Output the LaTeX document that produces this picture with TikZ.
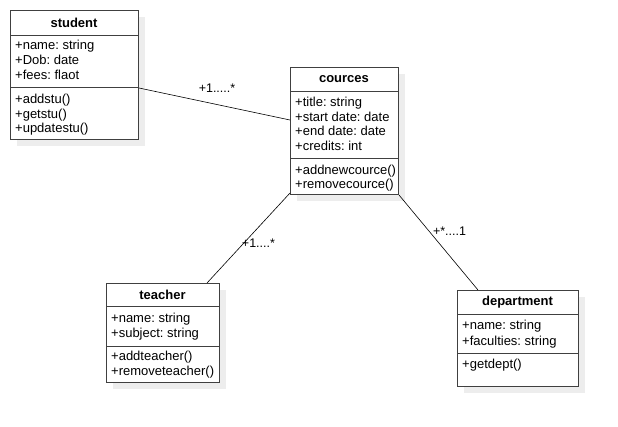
\documentclass[tikz,border=0pt]{standalone}
\usepackage{fontspec}
\setmainfont{Liberation Sans}
\frenchspacing
\begin{document}
\begin{tikzpicture}[x=1pt,y=-1pt,
  umlbox/.style={draw=black!75, line width=1pt, fill=white, inner sep=0pt, anchor=north west},
  shade/.style={fill=black!7, draw=none},
  divider/.style={draw=black!75, line width=1pt},
  title/.style={font=\fontsize{13}{15}\selectfont\bfseries, inner sep=0pt},
  txt/.style={font=\fontsize{13}{15}\selectfont, inner sep=0pt, anchor=base west, yshift=-4.5pt},
  conn/.style={draw=black, line width=0.6pt},
  mult/.style={font=\fontsize{12.5}{14}\selectfont, inner sep=0pt}
]
\useasboundingbox[fill=white] (0,0) rectangle (618,426);
% shadows
\fill[shade] (17,17) rectangle (145,146);
\fill[shade] (297,74) rectangle (405,201);
\fill[shade] (113,290) rectangle (226,389);
\fill[shade] (464,297) rectangle (585,393);
% student
\node[umlbox, minimum width=128pt, minimum height=129pt] (student) at (10,10) {};
\draw[divider] (10,35) -- (138,35);
\draw[divider] (10,87) -- (138,87);
\node[title] (studentT) at (74,22.5) {student};
\node[txt] (s1) at (15,45) {+name: string};
\node[txt] (s2) at (15,60) {+Dob: date};
\node[txt] (s3) at (15,75) {+fees: flaot};
\node[txt] (s4) at (15,99) {+addstu()};
\node[txt] (s5) at (15,114) {+getstu()};
\node[txt] (s6) at (15,128) {+updatestu()};
% cources
\node[umlbox, minimum width=108pt, minimum height=127pt] (cources) at (290,67) {};
\draw[divider] (290,91) -- (398,91);
\draw[divider] (290,158) -- (398,158);
\node[title] (courcesT) at (344,79) {cources};
\node[txt] (c1) at (295,101.5) {+title: string};
\node[txt] (c2) at (295,116.5) {+start date: date};
\node[txt] (c3) at (295,131) {+end date: date};
\node[txt] (c4) at (295,146) {+credits: int};
\node[txt] (c5) at (295,169.5) {+addnewcource()};
\node[txt] (c6) at (295,184) {+removecource()};
% teacher
\node[umlbox, minimum width=113pt, minimum height=99pt] (teacher) at (106,283) {};
\draw[divider] (106,306) -- (219,306);
\draw[divider] (106,346) -- (219,346);
\node[title] (teacherT) at (162.5,295) {teacher};
\node[txt] (t1) at (111,318) {+name: string};
\node[txt] (t2) at (111,332.5) {+subject: string};
\node[txt] (t3) at (111,356) {+addteacher()};
\node[txt] (t4) at (111,370.5) {+removeteacher()};
% department
\node[umlbox, minimum width=121pt, minimum height=96pt] (department) at (457,290) {};
\draw[divider] (457,314) -- (578,314);
\draw[divider] (457,353) -- (578,353);
\node[title] (departmentT) at (517.5,302.5) {department};
\node[txt] (d1) at (462,325) {+name: string};
\node[txt] (d2) at (462,340.5) {+faculties: string};
\node[txt] (d3) at (462,363.5) {+getdept()};
% connector end points
\coordinate (sE) at ([yshift=-78pt]student.north east);
\coordinate (cW) at ([yshift=-53pt]cources.north west);
\coordinate (cBL) at ([yshift=2pt]cources.south west);
\coordinate (cBR) at (cources.south east);
\coordinate (tN) at ([xshift=101pt]teacher.north west);
\coordinate (dN) at ([xshift=21pt]department.north west);
\draw[conn] (sE) -- (cW);
\draw[conn] (cBL) -- (tN);
\draw[conn] (cBR) -- (dN);
\node[mult] (m1) at (217,88) {+1.....*};
\node[mult] (m2) at (258.5,243) {+1....*};
\node[mult] (m3) at (449.5,231.5) {+*....1};
\end{tikzpicture}
\end{document}
